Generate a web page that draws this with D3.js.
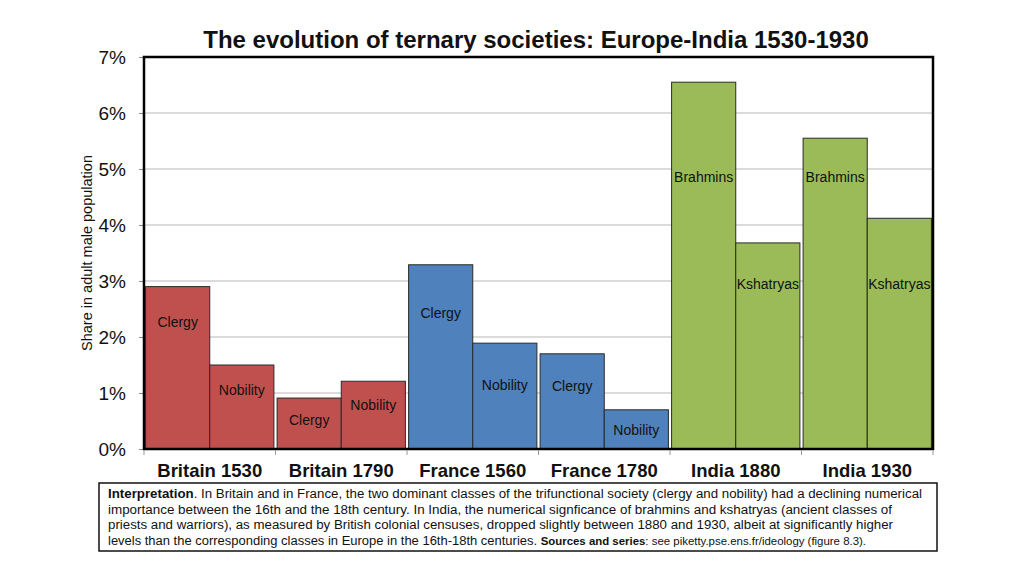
<!DOCTYPE html>
<html>
<head>
<meta charset="utf-8">
<script src="https://cdn.jsdelivr.net/npm/d3@7"></script>
<style>
  body { margin: 0; background: #fff; }
  svg { font-family: "Liberation Sans", Arial, sans-serif; }
</style>
</head>
<body>
<div id="chart"></div>
<script>
const categories = ["Britain 1530", "Britain 1790", "France 1560", "France 1780", "India 1880", "India 1930"];
const firstValues = [2.9, 0.91, 3.29, 1.7, 6.55, 5.55];
const secondValues = [1.5, 1.21, 1.89, 0.7, 3.68, 4.12];
const firstNames = ["Clergy", "Clergy", "Clergy", "Clergy", "Brahmins", "Brahmins"];
const secondNames = ["Nobility", "Nobility", "Nobility", "Nobility", "Kshatryas", "Kshatryas"];
// level (in %) where each bar's name sits
const firstLabelAt = [2.26, 0.51, 2.43, 1.13, 4.86, 4.86];
const secondLabelAt = [1.06, 0.79, 1.15, 0.34, 2.95, 2.95];
const yTicks = [0, 1, 2, 3, 4, 5, 6, 7];
const groupColors = ["#C0504D", "#C0504D", "#4F81BD", "#4F81BD", "#9BBB59", "#9BBB59"];

const width = 1024;
const height = 576;
const margin = {top: 57, bottom: 127, left: 144, right: 91};

const svg = d3.select('#chart')
    .append('svg')
    .attr('width', width)
    .attr('height', height);

const x = d3.scaleBand()
    .domain(categories)
    .range([margin.left, width - margin.right]);

const sub = d3.scaleBand()
    .domain([0, 1])
    .range([0, x.bandwidth()])
    .paddingOuter(0.025);

const y = d3.scaleLinear()
    .domain([0, 7])
    .range([height - margin.bottom, margin.top]);

// gridlines
svg.selectAll('.grid')
    .data(yTicks.slice(1, -1))
    .enter()
    .append('line')
    .attr('x1', margin.left)
    .attr('x2', width - margin.right)
    .attr('y1', d => y(d))
    .attr('y2', d => y(d))
    .attr('stroke', '#b8b8b8')
    .attr('stroke-width', 1);

// y axis ticks + labels
const yAxis = d3.axisLeft(y)
    .tickValues(yTicks)
    .tickSize(5)
    .tickPadding(13)
    .tickFormat(d => d + '%');

svg.append('g')
    .attr('transform', `translate(${margin.left},0)`)
    .call(yAxis)
    .call(g => g.select('.domain').remove())
    .call(g => g.selectAll('line').attr('stroke', '#888'))
    .call(g => g.selectAll('text')
        .attr('font-size', 19)
        .attr('fill', '#111')
        .attr('font-family', '"Liberation Sans", Arial, sans-serif'));

// bars
const bars = [];
categories.forEach((c, i) => {
    bars.push({cat: c, k: 0, v: firstValues[i], name: firstNames[i], at: firstLabelAt[i], color: groupColors[i]});
    bars.push({cat: c, k: 1, v: secondValues[i], name: secondNames[i], at: secondLabelAt[i], color: groupColors[i]});
});

svg.selectAll('.bar')
    .data(bars)
    .enter()
    .append('rect')
    .attr('class', 'bar')
    .attr('x', d => x(d.cat) + sub(d.k))
    .attr('y', d => y(d.v))
    .attr('width', sub.bandwidth())
    .attr('height', d => y(0) - y(d.v))
    .attr('fill', d => d.color)
    .attr('stroke', '#2a2a2a')
    .attr('stroke-width', 1);

svg.selectAll('.bar-label')
    .data(bars)
    .enter()
    .append('text')
    .attr('x', d => x(d.cat) + sub(d.k) + sub.bandwidth() / 2)
    .attr('y', d => y(d.at))
    .attr('dy', '0.35em')
    .attr('text-anchor', 'middle')
    .attr('font-size', 14)
    .attr('fill', '#111')
    .text(d => d.name);

// frame (left, top, right, bottom)
svg.append('rect')
    .attr('x', margin.left)
    .attr('y', margin.top)
    .attr('width', width - margin.left - margin.right)
    .attr('height', height - margin.top - margin.bottom)
    .attr('fill', 'none')
    .attr('stroke', '#000')
    .attr('stroke-width', 2.5);

// x ticks at group boundaries
const bounds = categories.map(c => x(c)).concat([width - margin.right]);
svg.selectAll('.xtick')
    .data(bounds)
    .enter()
    .append('line')
    .attr('x1', d => d)
    .attr('x2', d => d)
    .attr('y1', y(0) + 1)
    .attr('y2', y(0) + 6)
    .attr('stroke', '#999');

svg.selectAll('.cat')
    .data(categories)
    .enter()
    .append('text')
    .attr('x', d => x(d) + x.bandwidth() / 2)
    .attr('y', y(0) + 28)
    .attr('text-anchor', 'middle')
    .attr('font-size', 18.5)
    .attr('font-weight', 'bold')
    .attr('fill', '#111')
    .text(d => d);

// axis title
svg.append('text')
    .attr('transform', `translate(92,${(y(0) + y(7)) / 2}) rotate(-90)`)
    .attr('text-anchor', 'middle')
    .attr('font-size', 14.5)
    .attr('fill', '#111')
    .text('Share in adult male population');

// title
svg.append('text')
    .attr('x', 536)
    .attr('y', 48)
    .attr('text-anchor', 'middle')
    .attr('font-size', 24)
    .attr('font-weight', 'bold')
    .attr('fill', '#111')
    .text('The evolution of ternary societies: Europe-India 1530-1930');

// interpretation box
svg.append('rect')
    .attr('x', 99)
    .attr('y', 483)
    .attr('width', 838)
    .attr('height', 68)
    .attr('fill', '#fff')
    .attr('stroke', '#111')
    .attr('stroke-width', 1.5);

const noteLines = [
    [{t: 'Interpretation', b: true}, {t: '. In Britain and in France, the two dominant classes of the trifunctional society (clergy and nobility) had a declining numerical'}],
    [{t: 'importance between the 16th and the 18th century. In India, the numerical signficance of brahmins and kshatryas (ancient classes of'}],
    [{t: 'priests and warriors), as measured by British colonial censuses, dropped slightly between 1880 and 1930, albeit at significantly higher'}],
    [{t: 'levels than the corresponding classes in Europe in the 16th-18th centuries.  '}, {t: 'Sources and series', b: true, s: 11}, {t: ': see piketty.pse.ens.fr/ideology (figure 8.3).', s: 11}]
];
const noteEnds = [922, 892, 893, 866];

noteLines.forEach((parts, i) => {
    const t = svg.append('text')
        .attr('x', 108)
        .attr('y', 498 + i * 15.5)
        .attr('font-size', 12.5)
        .attr('fill', '#111')
        .attr('textLength', noteEnds[i] - 108)
        .attr('lengthAdjust', 'spacingAndGlyphs');
    parts.forEach(p => {
        t.append('tspan')
            .attr('font-weight', p.b ? 'bold' : null)
            .attr('font-size', p.s || null)
            .text(p.t);
    });
});
</script>
</body>
</html>
